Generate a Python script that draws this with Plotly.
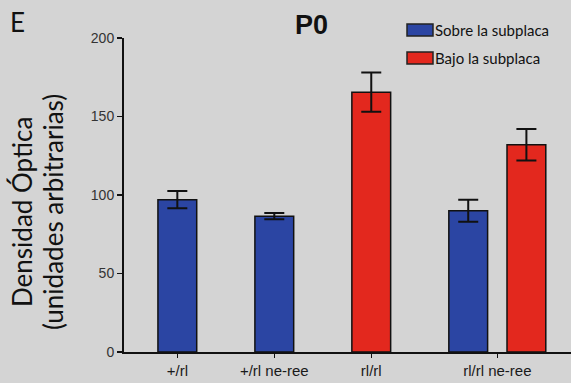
import plotly.graph_objects as go

categories = ["+/rl", "+/rl ne-ree", "rl/rl", "rl/rl ne-ree"]
sobre_values = [97, 86.5, None, 90]
sobre_err = [5.5, 2, None, 7]
bajo_values = [None, None, 165.5, 132]
bajo_err = [None, None, 12.5, 10]
y_ticks = [0, 50, 100, 150, 200]

series_names = ["Sobre la subplaca", "Bajo la subplaca"]
BLUE = "#2b45a3"
RED = "#e3281e"
BG = "#d4d4d4"

# group positions on a numeric axis (last group is wider in the original)
group_pos = [0, 1, 2, 3.3]
half_off = 0.3
bar_w = 0.4

L, T, W, H = 124, 38, 447, 314  # plot area in px


def px_x(x):
    return (x - L) / W


def px_y(y):
    return (T + H - y) / H


def xs(values, other, sign):
    out, ys = [], []
    for p, v, o in zip(group_pos, values, other):
        if v is None:
            continue
        out.append(p + sign * half_off if o is not None else p)
        ys.append(v)
    return out, ys


sx, sy = xs(sobre_values, bajo_values, -1)
bx, by = xs(bajo_values, sobre_values, 1)
se = [e for e in sobre_err if e is not None]
be = [e for e in bajo_err if e is not None]

fig = go.Figure()
for x, y, e, color, name in [(sx, sy, se, BLUE, series_names[0]), (bx, by, be, RED, series_names[1])]:
    fig.add_trace(go.Bar(
        x=x, y=y, width=bar_w, name=name,
        marker=dict(color=color, line=dict(color="#111", width=1.5)),
        error_y=dict(type="data", array=e, color="#111", thickness=2, width=10),
        showlegend=False, hoverinfo="skip",
    ))

fig.update_layout(
    width=571, height=383,
    margin=dict(l=L, r=571 - L - W, t=T, b=383 - T - H),
    paper_bgcolor=BG, plot_bgcolor=BG,
    barmode="overlay",
    font=dict(family="Liberation Sans, Arial", color="#222"),
    xaxis=dict(
        range=[-0.55, 4.06], tickvals=group_pos, ticktext=categories,
        showline=True, linecolor="#111", linewidth=1.5,
        ticks="outside", ticklen=4, tickcolor="#111", tickwidth=1.5,
        showgrid=False, zeroline=False, tickfont=dict(size=15, color="#1a1a1a"),
    ),
    yaxis=dict(
        range=[0, 200], tickvals=y_ticks,
        showline=True, linecolor="#111", linewidth=2,
        ticks="outside", ticklen=5, tickcolor="#111", tickwidth=1.5,
        showgrid=False, zeroline=False, tickfont=dict(size=14, color="#333"),
    ),
)

# title
fig.add_annotation(text="<b>P0</b>", xref="paper", yref="paper", x=px_x(311), y=px_y(25),
                   showarrow=False, font=dict(size=27, color="#111", family="Liberation Sans, Arial"),
                   xanchor="center", yanchor="middle")
# panel letter
fig.add_annotation(text="E", xref="paper", yref="paper", x=px_x(17), y=px_y(22),
                   showarrow=False, font=dict(size=26, color="#111", family="Lato"),
                   xanchor="center", yanchor="middle")
# y axis title (two lines)
for txt, xc in [("Densidad Óptica", 22), ("(unidades arbitrarias)", 53)]:
    fig.add_annotation(text=txt, xref="paper", yref="paper",
                       x=px_x(xc), y=px_y(212), textangle=-90, showarrow=False,
                       font=dict(size=26, color="#111", family="Lato"),
                       xanchor="center", yanchor="middle")

# legend drawn manually
for i, (name, color) in enumerate(zip(series_names, [BLUE, RED])):
    yc = 30 + 28 * i
    fig.add_shape(type="rect", xref="paper", yref="paper",
                  x0=px_x(407), x1=px_x(433),
                  y0=px_y(yc - 6), y1=px_y(yc + 6),
                  fillcolor=color, line=dict(color="#222", width=1.5))
    fig.add_annotation(text=name, xref="paper", yref="paper", x=px_x(433),
                       y=px_y(yc), showarrow=False, xanchor="left", yanchor="middle",
                       font=dict(size=15, color="#111", family="Lato"))

fig.write_html("out.html", config={"displayModeBar": False, "staticPlot": True},
               post_script="document.body.style.margin='0';document.body.style.overflow='hidden';")
